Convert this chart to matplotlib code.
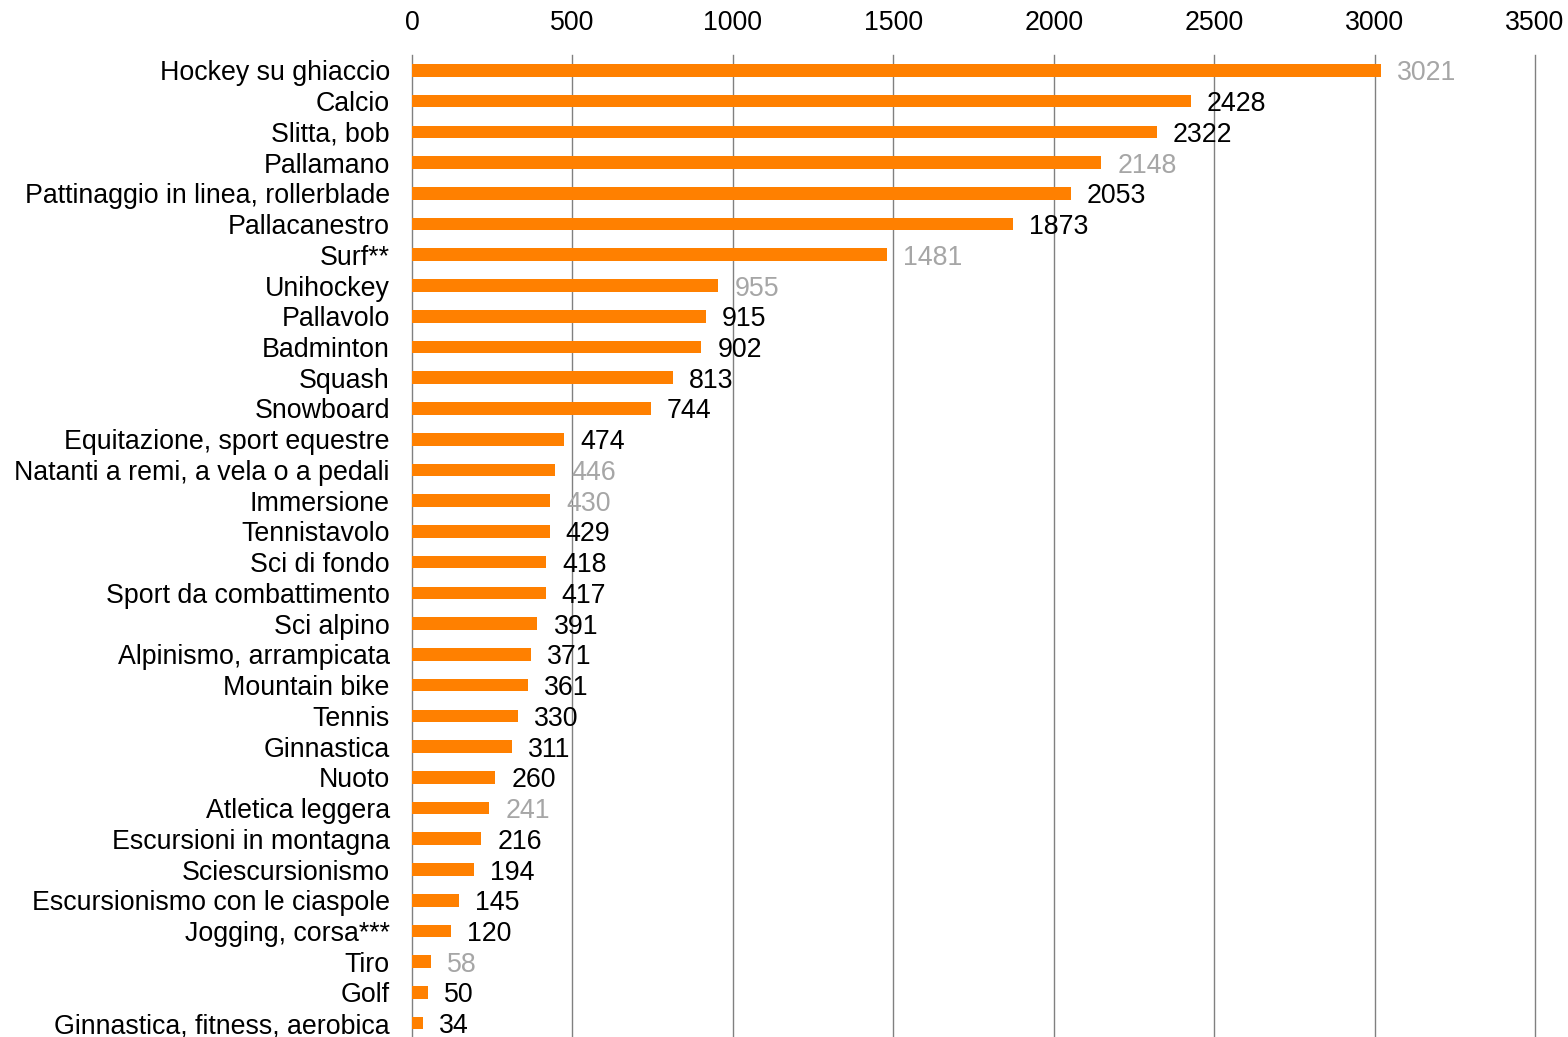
import matplotlib
matplotlib.use("Agg")
import matplotlib.pyplot as plt

categories = ["Hockey su ghiaccio", "Calcio", "Slitta, bob", "Pallamano",
              "Pattinaggio in linea, rollerblade", "Pallacanestro", "Surf**",
              "Unihockey", "Pallavolo", "Badminton", "Squash", "Snowboard",
              "Equitazione, sport equestre", "Natanti a remi, a vela o a pedali",
              "Immersione", "Tennistavolo", "Sci di fondo", "Sport da combattimento",
              "Sci alpino", "Alpinismo, arrampicata", "Mountain bike", "Tennis",
              "Ginnastica", "Nuoto", "Atletica leggera", "Escursioni in montagna",
              "Sciescursionismo", "Escursionismo con le ciaspole", "Jogging, corsa***",
              "Tiro", "Golf", "Ginnastica, fitness, aerobica"]
values = [3021, 2428, 2322, 2148, 2053, 1873, 1481, 955, 915, 902, 813, 744,
          474, 446, 430, 429, 418, 417, 391, 371, 361, 330, 311, 260, 241,
          216, 194, 145, 120, 58, 50, 34]
gray_labels = ["Hockey su ghiaccio", "Pallamano", "Surf**", "Unihockey",
               "Natanti a remi, a vela o a pedali", "Immersione",
               "Atletica leggera", "Tiro"]
xticks = [0, 500, 1000, 1500, 2000, 2500, 3000, 3500]

plt.rcParams['font.family'] = ['Liberation Sans', 'DejaVu Sans']
FS = 19.3

fig = plt.figure(figsize=(15.68, 10.37), dpi=100)
ax = fig.add_axes([412/1568, -0.0015, (1535-412)/1568, 1 - 55/1037 + 0.0015])

y = list(range(len(categories)))
ax.barh(y, values, height=0.41, color="#FF8000", zorder=3)
for yi, v, c in zip(y, values, categories):
    col = "#A6A6A6" if c in gray_labels else "black"
    ax.text(v + 50, yi, str(v), va="center_baseline", ha="left", fontsize=FS, color=col, zorder=4)

ax.set_ylim(len(categories) - 0.5, -0.5)
ax.set_xlim(0, 3500)
ax.set_xticks(xticks)
ax.set_xticklabels([str(t) for t in xticks])
ax.xaxis.tick_top()
ax.tick_params(axis="x", length=0, labelsize=FS, pad=14)
ax.set_yticks(y)
ax.set_yticklabels(categories)
ax.tick_params(axis="y", length=0, labelsize=FS, pad=16)
ax.grid(axis="x", color="#808080", linewidth=1.0, zorder=0)
for gl in ax.get_xgridlines():
    gl.set_clip_on(False)
for s in ax.spines.values():
    s.set_visible(False)

fig.savefig("out.png", dpi=100)
